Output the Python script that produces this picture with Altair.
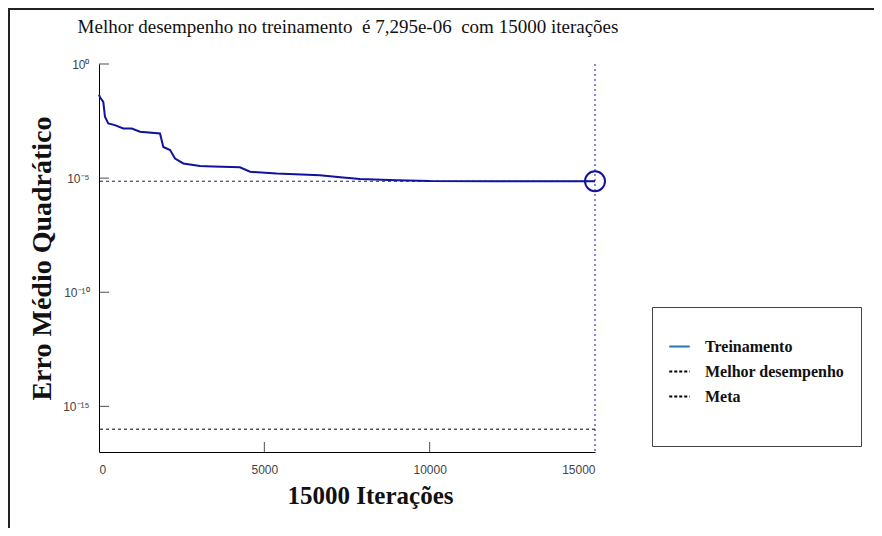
import altair as alt
import pandas as pd

# ---- data ----
iters = [0, 30, 130, 180, 280, 480, 735, 990, 1240, 1845, 1945, 2150, 2300, 2550,
         3055, 3450, 4260, 4570, 5370, 6680, 7380, 7890, 9000, 10000, 12000, 15000]
mse = [4.5e-2, 3.5e-2, 2.2e-2, 4.9e-3, 2.5e-3, 2.1e-3, 1.5e-3, 1.5e-3, 1.07e-3, 9.1e-4,
       2.3e-4, 1.7e-4, 7.2e-5, 4.4e-5, 3.4e-5, 3.2e-5, 3.0e-5, 1.9e-5, 1.6e-5, 1.35e-5,
       1.07e-5, 9.1e-6, 8.1e-6, 7.4e-6, 7.3e-6, 7.295e-6]
best_iter = 15000
best_value = 7.295e-6
goal_value = 1e-16
x_ticks = [0, 5000, 10000, 15000]
y_ticks = [1e0, 1e-5, 1e-10, 1e-15]
y_domain = [1e-17, 1e0]
x_domain = [0, 15000]
legend_names = ["Treinamento", "Melhor desempenho", "Meta", "\u00a0" * 38]
legend_colors = ["#1f7ab0", "#000000", "#000000", "#ffffff"]
title_text = "Melhor desempenho no treinamento \u00a0é 7,295e-06 \u00a0com 15000 iterações"

train = pd.DataFrame({"it": iters, "mse": mse})
xs = alt.Scale(domain=x_domain, nice=False, zero=False)
ys = alt.Scale(type="log", domain=y_domain, nice=False)

NAVY = "#12129c"

line = alt.Chart(train).mark_line(color=NAVY, strokeWidth=2).encode(
    x=alt.X("it:Q", scale=xs,
            axis=alt.Axis(values=x_ticks, title="15000 Iterações", format="d",
                          grid=False, tickSize=0, labelPadding=12,
                          labelFont="Liberation Sans", labelFontSize=12, labelColor="#444",
                          domainColor="#000", titleFont="Liberation Serif", titleFontSize=25,
                          titleFontWeight="bold", titleColor="#111", titlePadding=8,
                          titleX=271)),
    y=alt.Y("mse:Q", scale=ys,
            axis=alt.Axis(values=y_ticks, title="Erro Médio Quadrático", grid=False,
                          tickSize=0, labelPadding=10,
                          labelExpr="datum.value == 1 ? '10⁰' : datum.value > 1e-6 ? '10⁻⁵' : datum.value > 1e-11 ? '10⁻¹⁰' : '10⁻¹⁵'",
                          labelFont="Liberation Sans", labelFontSize=12, labelColor="#444",
                          domainColor="#000", titleFont="Liberation Serif", titleFontSize=28,
                          titleFontWeight="bold", titleColor="#111", titlePadding=6)),
)

best_h = alt.Chart(pd.DataFrame({"v": [best_value]})).mark_rule(
    color="#202060", strokeDash=[3, 3], strokeWidth=1).encode(y=alt.Y("v:Q", scale=ys))
goal_h = alt.Chart(pd.DataFrame({"v": [goal_value]})).mark_rule(
    color="#000", strokeDash=[3, 3], strokeWidth=1).encode(y=alt.Y("v:Q", scale=ys))
best_v = alt.Chart(pd.DataFrame({"it": [best_iter]})).mark_rule(
    color=NAVY, strokeDash=[2, 3], strokeWidth=1).encode(x=alt.X("it:Q", scale=xs))
circle = alt.Chart(pd.DataFrame({"it": [best_iter], "v": [best_value]})).mark_point(
    shape="circle", size=400, filled=False, color=NAVY, strokeWidth=2, opacity=1).encode(
    x=alt.X("it:Q", scale=xs), y=alt.Y("v:Q", scale=ys))

# inward ticks
xt = alt.Chart(pd.DataFrame({"it": x_ticks[1:3], "v": [y_domain[0]] * 2})).mark_tick(
    orient="vertical", size=10, thickness=1, color="#000", yOffset=-5).encode(
    x=alt.X("it:Q", scale=xs), y=alt.Y("v:Q", scale=ys))
yt = alt.Chart(pd.DataFrame({"it": [0] * 4, "v": y_ticks})).mark_tick(
    orient="horizontal", size=10, thickness=1, color="#000", xOffset=5).encode(
    x=alt.X("it:Q", scale=xs), y=alt.Y("v:Q", scale=ys))

# legend driver (invisible marks, visible legend)
leg_df = pd.DataFrame({"it": [0] * 4, "v": [1e-17] * 4, "s": legend_names})
legend_layer = alt.Chart(leg_df).mark_line(opacity=0).encode(
    x=alt.X("it:Q", scale=xs), y=alt.Y("v:Q", scale=ys),
    color=alt.Color("s:N", scale=alt.Scale(domain=legend_names, range=legend_colors),
                    legend=alt.Legend(title=" ", orient="none", legendX=553, legendY=243,
                                      symbolType="stroke", symbolOpacity=1,
                                      symbolStrokeWidth=1.8, symbolSize=420,
                                      labelFont="Liberation Serif", labelFontWeight="bold",
                                      labelFontSize=16, labelColor="#111", labelOffset=14,
                                      labelLimit=400,
                                      titleFontSize=8, titlePadding=4,
                                      strokeColor="#444", fillColor="#fff", padding=16,
                                      rowPadding=5)),
    strokeDash=alt.StrokeDash("s:N", scale=alt.Scale(domain=legend_names,
                              range=[[1, 0], [3, 2], [3, 2], [1, 0]]), legend=None),
)

# chart title as text
title = alt.Chart(pd.DataFrame({"t": [title_text]})).mark_text(
    font="Liberation Serif", fontSize=19, color="#111", baseline="middle", align="center").encode(
    text="t:N", x=alt.value(249), y=alt.value(-37))

# outer frame
frame = alt.Chart(pd.DataFrame({"k": [0]})).mark_rect(
    fill=None, stroke="#222", strokeWidth=2).encode(
    x=alt.value(-90), x2=alt.value(900), y=alt.value(-55), y2=alt.value(700))

chart = alt.layer(frame, goal_h, best_h, best_v, line, circle, xt, yt, legend_layer, title).properties(
    width=496, height=388,
    autosize=alt.AutoSizeParams(type="none"),
    padding={"left": 91, "top": 56, "right": 279, "bottom": 76},
    background="#ffffff",
).configure_view(stroke=None)

chart.save("out.html", embed_options={"renderer": "svg", "actions": False})
